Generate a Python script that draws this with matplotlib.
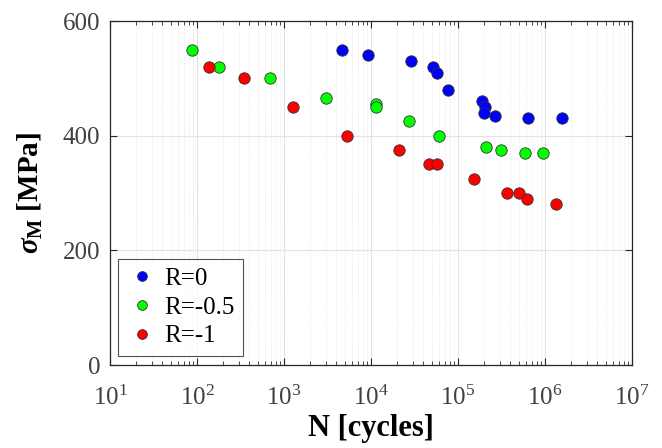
import numpy as np
import matplotlib
matplotlib.use("Agg")
import matplotlib.pyplot as plt
from matplotlib.ticker import LogLocator, NullFormatter

plt.rcParams['font.family'] = ['Liberation Serif', 'DejaVu Serif']
plt.rcParams['mathtext.fontset'] = 'custom'
plt.rcParams['mathtext.rm'] = 'Liberation Serif'
plt.rcParams['mathtext.it'] = 'Liberation Serif:italic:bold'
plt.rcParams['mathtext.bf'] = 'Liberation Serif:bold'

# R = 0
n_r0 = [4640, 9250, 28800, 51600, 57400, 76700, 187000, 204000, 200000, 264000, 646000, 1580000]
s_r0 = [550, 540, 530, 520, 510, 480, 460, 450, 440, 435, 430, 430]
# R = -0.5
n_r05 = [87, 177, 697, 3060, 11400, 11500, 27600, 60000, 208000, 312000, 590000, 949000]
s_r05 = [550, 520, 500, 465, 455, 450, 425, 400, 380, 375, 370, 370]
# R = -1
n_r1 = [137, 347, 1270, 5350, 20800, 46000, 56900, 151000, 369000, 507000, 621000, 1330000]
s_r1 = [520, 500, 450, 400, 375, 350, 350, 325, 300, 300, 290, 280]

series = [("R=0", n_r0, s_r0, "#0000ff"),
          ("R=-0.5", n_r05, s_r05, "#00ff00"),
          ("R=-1", n_r1, s_r1, "#ff0000")]

fig = plt.figure(figsize=(6.62, 4.48), dpi=100)
ax = fig.add_axes([110/662, 1-365/448, 522/662, 344/448])

for lab, n, s, c in series:
    ax.plot(n, s, linestyle='none', marker='o', markersize=8.2,
            markerfacecolor=c, markeredgecolor='#333333', markeredgewidth=0.6,
            label=lab, zorder=3)

ax.set_xscale('log')
ax.set_xlim(10, 1e7)
ax.set_ylim(0, 600)
ax.set_yticks([0, 200, 400, 600])
ax.xaxis.set_major_locator(LogLocator(base=10, numticks=10))
ax.xaxis.set_minor_locator(LogLocator(base=10, subs=np.arange(2, 10), numticks=20))
ax.xaxis.set_minor_formatter(NullFormatter())

ax.grid(True, which='major', color='#e3e3e3', linewidth=0.8, zorder=0)
ax.grid(True, which='minor', axis='x', color='#e6e6e6', linestyle=':', linewidth=0.7, zorder=0)
ax.set_axisbelow(True)

ax.tick_params(which='both', direction='in', top=True, right=True, colors='#262626',
               labelcolor='#404040', labelsize=18)
ax.tick_params(which='major', length=5, width=0.8)
ax.tick_params(which='minor', length=3, width=0.6)
ax.tick_params(axis='x', pad=15)
ax.tick_params(axis='y', pad=7)
for sp in ax.spines.values():
    sp.set_color('#262626')
    sp.set_linewidth(0.9)

ax.set_xlabel('N [cycles]', fontsize=22, fontweight='bold', labelpad=3)
ax.set_ylabel(r'$\sigma_\mathbf{M}$ [MPa]', fontsize=21, fontweight='bold', labelpad=13)

leg = ax.legend(loc='lower left', fontsize=18, frameon=True, fancybox=False,
                edgecolor='#262626', handletextpad=0.3, borderpad=0.35,
                labelspacing=0.25, handlelength=1.2, borderaxespad=0,
                bbox_to_anchor=(8/522, 9/344))
leg.get_frame().set_linewidth(0.8)
for h in leg.legend_handles:
    h.set_markersize(7)

fig.savefig('out.png', dpi=100)
